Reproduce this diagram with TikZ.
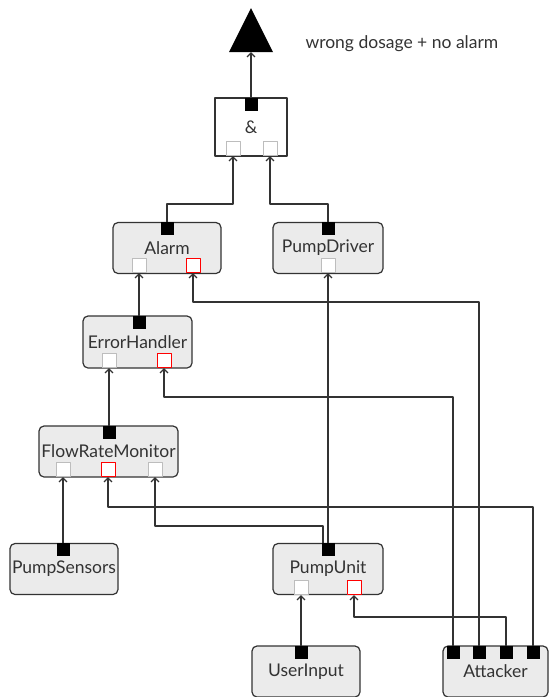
\documentclass[tikz,border=0pt]{standalone}
\usepackage{fontspec}
\setmainfont{Lato}
\usetikzlibrary{arrows.meta}
\definecolor{wirecol}{HTML}{333333}
\definecolor{compfill}{HTML}{EBEBEB}
\definecolor{portline}{HTML}{BDBDBD}
\tikzset{treeview/.style={
  x=1pt,y=-1pt,
  >={Straight Barb[length=4pt,width=8pt]},line join=round
},
label font/.style={font=\fontsize{17.5}{20}\selectfont,text=wirecol},
comp/.style={draw=wirecol,fill=compfill,rounded corners=5pt,line width=1.2pt,
  minimum width=108pt,minimum height=51pt,inner sep=0pt,label font},
outport/.style={fill=black,minimum size=13pt,inner sep=0pt,anchor=north},
inport/.style={draw=portline,fill=white,line width=1pt,minimum size=14pt,inner sep=0pt,anchor=south},
redport/.style={inport,draw=red},
wire/.style={draw=wirecol,line width=1.3pt}
}

\begin{document}
\begin{tikzpicture}[treeview]
  \useasboundingbox (0,0) rectangle (549,697);
  \fill[black] (251,8) -- (273,52) -- (229,52) -- cycle;
  \coordinate (top) at (251,52);
  \node[anchor=west,label font] (toplabel) at (302,44) {wrong dosage + no alarm};

  \node[draw=wirecol,line width=1.2pt,minimum width=72pt,minimum height=58pt,inner sep=0pt,
    label font] (and) at (251,127) {\&};
  \node[comp] (alarm) at (167,248) {Alarm};
  \node[comp,minimum width=110pt] (drv) at (328,248) {PumpDriver};
  \node[comp,minimum width=109pt,minimum height=52pt] (err) at (137.5,342) {ErrorHandler};
  \node[comp,minimum width=139pt] (frm) at (108.5,451.5) {FlowRateMonitor};
  \node[comp] (sens) at (64,569) {PumpSensors};
  \node[comp,minimum width=110pt] (pu) at (328,569) {PumpUnit};
  \node[comp] (ui) at (306,671.5) {UserInput};
  \node[comp,minimum width=105pt] (att) at (495.5,671.5) {Attacker};

  \node[outport] (and-o) at (251,98) {};
  \node[inport] (and-i1) at (233,156) {};
  \node[inport] (and-i2) at (270,156) {};
  \node[outport] (alarm-o) at (167,222) {};
  \node[inport] (alarm-i1) at (139,273) {};
  \node[redport] (alarm-i2) at (193,273) {};
  \node[outport] (drv-o) at (328,222) {};
  \node[inport] (drv-i) at (328,273) {};
  \node[outport] (err-o) at (139,316) {};
  \node[inport] (err-i1) at (109,368) {};
  \node[redport] (err-i2) at (164,368) {};
  \node[outport] (frm-o) at (109,426) {};
  \node[inport] (frm-i1) at (63,477) {};
  \node[redport] (frm-i2) at (108,477) {};
  \node[inport] (frm-i3) at (155,477) {};
  \node[outport] (sens-o) at (63,543) {};
  \node[outport] (pu-o) at (328,543) {};
  \node[inport] (pu-i1) at (301,595) {};
  \node[redport] (pu-i2) at (354,595) {};
  \node[outport] (ui-o) at (301,646) {};
  \foreach \n/\x in {1/453,2/479,3/506,4/533}
    \node[outport] (att-\n) at (\x,646) {};

  \draw[wire,->] (and-o.north) -- (top);
  \draw[wire,->] (alarm-o.north) -- ++(0,-18) -| (and-i1.south);
  \draw[wire,->] (drv-o.north) -- ++(0,-18) -| (and-i2.south);
  \draw[wire,->] (err-o.north) -- (alarm-i1.south);
  \draw[wire,->] (att-2.north) -- (att-2.north |- 0,302) -| (alarm-i2.south);
  \draw[wire,->] (frm-o.north) -- (err-i1.south);
  \draw[wire,->] (att-1.north) -- (att-1.north |- 0,397) -| (err-i2.south);
  \draw[wire,->] (sens-o.north) -- (frm-i1.south);
  \draw[wire,->] (att-4.north) -- (att-4.north |- 0,507) -| (frm-i2.south);
  \draw[wire,->] ([xshift=-5pt]pu-o.north) -- ([xshift=-5pt]pu-o.north |- 0,526) -| (frm-i3.south);
  \draw[wire,->] (pu-o.north) -- (drv-i.south);
  \draw[wire,->] (ui-o.north) -- (pu-i1.south);
  \draw[wire,->] (att-3.north) -- (att-3.north |- 0,617) -| (pu-i2.south);
\end{tikzpicture}
\end{document}
